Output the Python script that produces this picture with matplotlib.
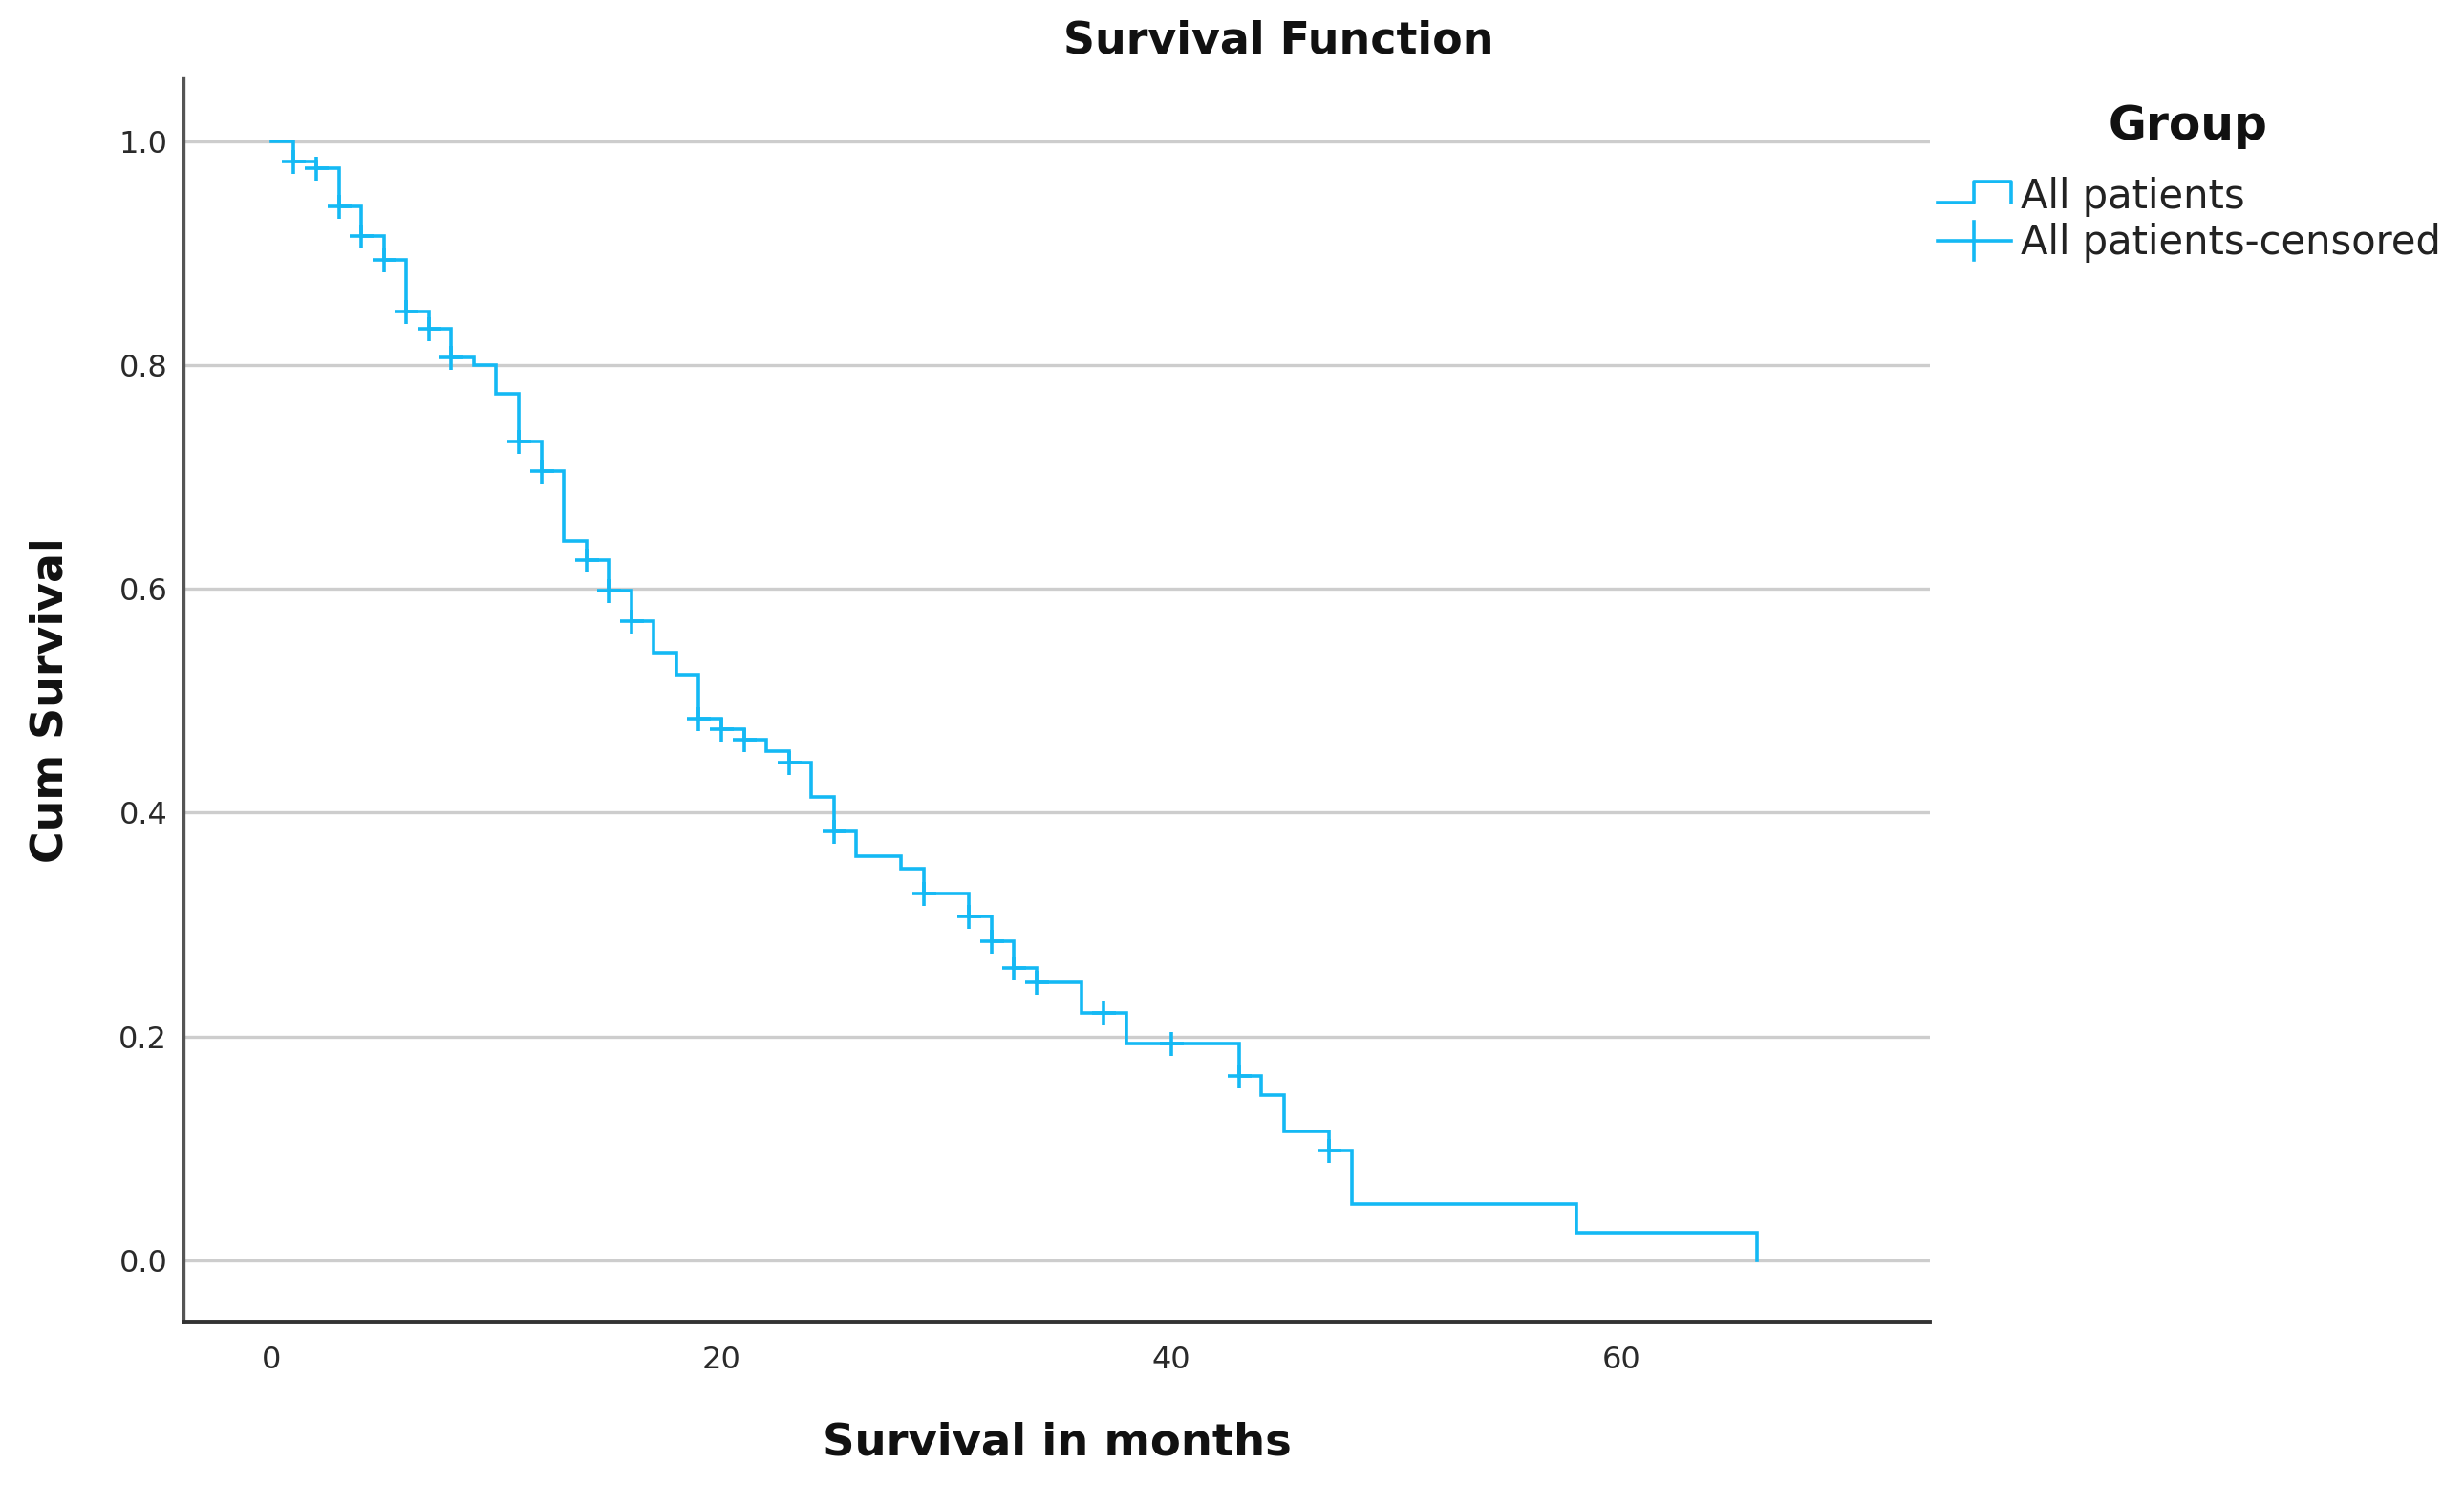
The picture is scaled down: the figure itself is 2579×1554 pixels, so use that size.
import numpy as np
import matplotlib
matplotlib.use("Agg")
import matplotlib.pyplot as plt
from matplotlib.lines import Line2D

# ---------------- data ----------------
event_times = [0, 1, 2, 3, 4, 5, 6, 7, 8, 9, 10, 11, 12, 13, 14, 15, 16, 17, 18,
               19, 20, 21, 22, 23, 24, 25, 26, 28, 29, 31, 32, 33, 34, 36, 38,
               43, 44, 45, 47, 48, 58, 66]
survival = [1.000, 0.9815, 0.976, 0.942, 0.915, 0.894, 0.848, 0.832, 0.807,
            0.800, 0.774, 0.732, 0.705, 0.643, 0.626, 0.5985, 0.571, 0.543,
            0.523, 0.484, 0.475, 0.465, 0.455, 0.445, 0.414, 0.383, 0.361,
            0.350, 0.328, 0.307, 0.285, 0.261, 0.248, 0.221, 0.194, 0.165,
            0.148, 0.1155, 0.098, 0.050, 0.025, 0.000]
censor_times = [1, 2, 3, 4, 5, 6, 7, 8, 11, 12, 14, 15, 16, 19, 20, 21, 23, 25,
                29, 31, 32, 33, 34, 37, 40, 43, 47]
x_ticks = [0, 20, 40, 60]
y_ticks = [0.0, 0.2, 0.4, 0.6, 0.8, 1.0]
series_label = "All patients"
censor_label = "All patients-censored"
legend_title = "Group"

# ---------------- figure ----------------
W, H = 2579, 1554
DPI = 100
plt.rcParams['font.family'] = ['DejaVu Sans']
fig = plt.figure(figsize=(W / DPI, H / DPI), dpi=DPI)
fig.patch.set_facecolor('white')

def fx(x):
    return x / W

def fy(y):
    return 1 - y / H

left, right, top, bottom = 192, 2020, 82, 1383
ax = fig.add_axes([fx(left), fy(bottom), (right - left) / W, (bottom - top) / H])

line_color = '#14b9f4'
LW = 2.6

ax.step(event_times, survival, where='post', color=line_color, lw=LW,
        solid_joinstyle='miter', zorder=3)

et = np.array(event_times)
sv = np.array(survival)
idx = np.searchsorted(et, np.array(censor_times), side='right') - 1
cens_y = sv[idx]
ax.plot(censor_times, cens_y, ls='none', marker='+', ms=18, mew=2.6,
        color=line_color, zorder=4)

ax.set_xlim(-3.9, 73.7)
ax.set_ylim(-0.0547, 1.056)
ax.set_xticks(x_ticks)
ax.set_yticks(y_ticks)
ax.set_yticklabels([f"{v:.1f}" for v in y_ticks])
ax.tick_params(axis='both', length=0, labelsize=23, colors='#2a2a2a')
ax.tick_params(axis='x', pad=18)
ax.tick_params(axis='y', pad=12)

ax.grid(axis='y', color='#cdcdcd', lw=2.4, zorder=1)
ax.set_axisbelow(True)
for s in ['top', 'right']:
    ax.spines[s].set_visible(False)
ax.spines['left'].set_color('#555555')
ax.spines['left'].set_linewidth(2.4)
ax.spines['bottom'].set_color('#333333')
ax.spines['bottom'].set_linewidth(2.8)

ax.set_xlabel("Survival in months", fontsize=33.5, fontweight='bold', color='#111111')
ax.xaxis.set_label_coords(0.5, (bottom - 1510) / (bottom - top))
ax.xaxis.label.set_va('center')
ax.set_ylabel("Cum Survival", fontsize=33, fontweight='bold', color='#111111')
ax.yaxis.set_label_coords((53 - left) / (right - left), 0.5)
ax.yaxis.label.set_va('center')

ax.set_title("Survival Function", fontsize=33, fontweight='bold', color='#111111',
             x=(1338 - left) / (right - left), y=(bottom - 43) / (bottom - top),
             pad=0, va='center')

# ---------------- legend (manual) ----------------
fig.text(fx(2290), fy(132), legend_title, ha='center', va='center',
         fontsize=35, fontweight='bold', color='#111111')
fig.text(fx(2115), fy(206), series_label, ha='left', va='center',
         fontsize=30, color='#222222')
fig.text(fx(2115), fy(254), censor_label, ha='left', va='center',
         fontsize=30, color='#222222')

gx = [2028, 2066, 2066, 2105, 2105]
gy = [212, 212, 190, 190, 212]
fig.add_artist(Line2D([fx(v) for v in gx], [fy(v) for v in gy],
                      transform=fig.transFigure, color=line_color, lw=LW))
fig.add_artist(Line2D([fx(2028), fx(2105)], [fy(252), fy(252)],
                      transform=fig.transFigure, color=line_color, lw=LW))
fig.add_artist(Line2D([fx(2066), fx(2066)], [fy(232), fy(272)],
                      transform=fig.transFigure, color=line_color, lw=LW))

fig.savefig("out.png", dpi=DPI, facecolor='white')
